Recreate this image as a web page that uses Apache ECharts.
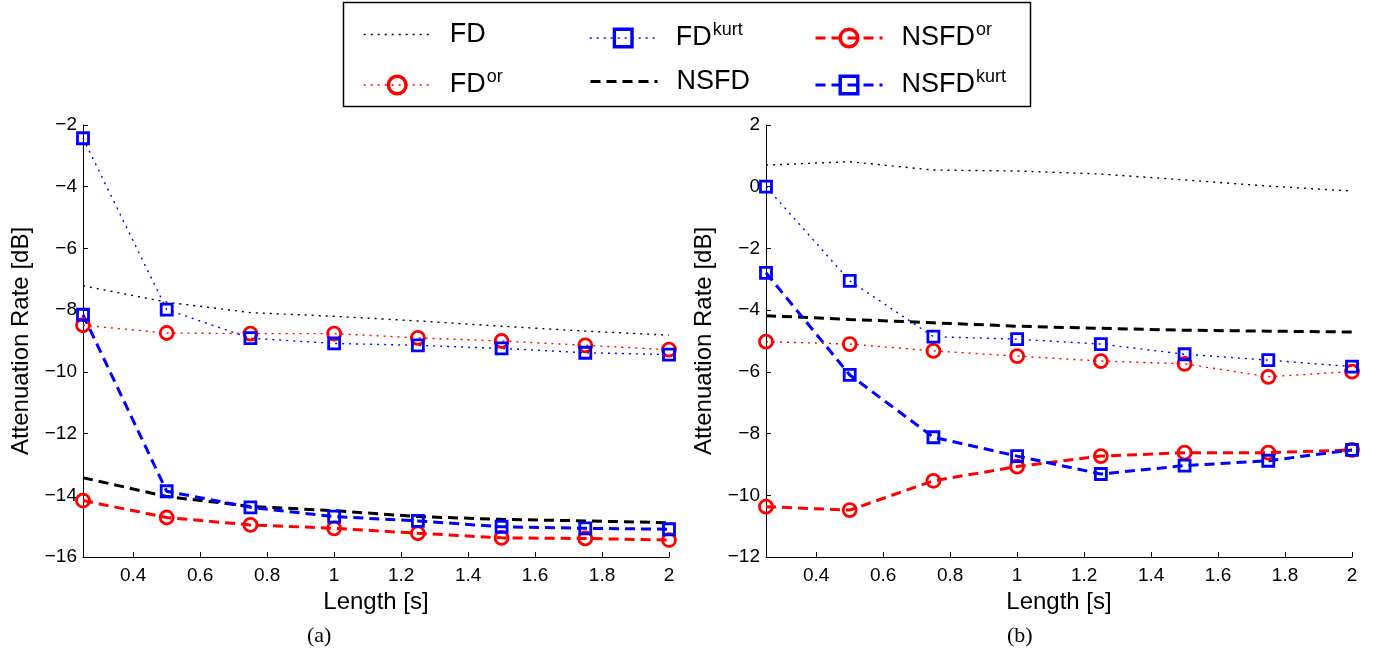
<!DOCTYPE html>
<html><head><meta charset="utf-8">
<script src="https://cdn.jsdelivr.net/npm/echarts@6/dist/echarts.min.js"></script>
<style>html,body{margin:0;padding:0;background:#fff}#c{width:1379px;height:661px}</style>
</head><body><div id="c"></div>
<script>
// ---- data ----
const lengths = [0.25, 0.5, 0.75, 1, 1.25, 1.5, 1.75, 2];
const xTickValues = [0.4, 0.6, 0.8, 1, 1.2, 1.4, 1.6, 1.8, 2];
const seriesNames = ['FD', 'FD^or', 'FD^kurt', 'NSFD', 'NSFD^or', 'NSFD^kurt'];

// panel (a)
const aFD        = [-7.21, -7.74, -8.08, -8.20, -8.35, -8.52, -8.68, -8.81];
const aFDor      = [-8.49, -8.74, -8.76, -8.76, -8.90, -9.00, -9.14, -9.28];
const aFDkurt    = [-2.43, -7.98, -8.91, -9.08, -9.14, -9.24, -9.38, -9.44];
const aNSFD      = [-13.43, -14.04, -14.36, -14.50, -14.69, -14.78, -14.83, -14.89];
const aNSFDor    = [-14.17, -14.72, -14.96, -15.07, -15.23, -15.38, -15.40, -15.45];
const aNSFDkurt  = [-8.15, -13.87, -14.39, -14.69, -14.83, -15.02, -15.07, -15.10];

// panel (b)
const bFD        = [0.70, 0.81, 0.54, 0.51, 0.41, 0.22, 0.02, -0.14];
const bFDor      = [-5.02, -5.10, -5.32, -5.49, -5.65, -5.74, -6.16, -5.99];
const bFDkurt    = [0.00, -3.05, -4.86, -4.94, -5.10, -5.43, -5.62, -5.83];
const bNSFD      = [-4.18, -4.30, -4.41, -4.52, -4.59, -4.65, -4.68, -4.71];
const bNSFDor    = [-10.37, -10.48, -9.53, -9.07, -8.73, -8.62, -8.62, -8.53];
const bNSFDkurt  = [-2.79, -6.10, -8.12, -8.73, -9.31, -9.04, -8.88, -8.53];

// ---- styles ----
const DOT = [2, 5];
const DASH = [10, 6];
const styles = {
  'FD':        {color: '#000000', width: 1.4, type: DOT,  symbol: 'none'},
  'FD^or':     {color: '#ff0000', width: 1.4, type: DOT,  symbol: 'circle'},
  'FD^kurt':   {color: '#0000ff', width: 1.4, type: DOT,  symbol: 'rect'},
  'NSFD':      {color: '#000000', width: 3,   type: DASH, symbol: 'none'},
  'NSFD^or':   {color: '#ff0000', width: 3,   type: DASH, symbol: 'circle'},
  'NSFD^kurt': {color: '#0000ff', width: 3,   type: DASH, symbol: 'rect'}
};

function pairs(vals) { return lengths.map((x, i) => [x, vals[i]]); }
function mk(name, vals, idx) {
  const s = styles[name];
  return {
    type: 'line', name: name, xAxisIndex: idx, yAxisIndex: idx,
    data: pairs(vals), symbol: s.symbol,
    symbolSize: s.symbol === 'circle' ? 13 : 11,
    lineStyle: {color: s.color, width: s.width, type: s.type},
    itemStyle: {color: 'rgba(0,0,0,0)', borderColor: s.color, borderWidth: 2.8},
    emphasis: {disabled: true}, animation: false, clip: false
  };
}

const series = [
  mk('FD', aFD, 0), mk('FD^or', aFDor, 0), mk('FD^kurt', aFDkurt, 0),
  mk('NSFD', aNSFD, 0), mk('NSFD^or', aNSFDor, 0), mk('NSFD^kurt', aNSFDkurt, 0),
  mk('FD', bFD, 1), mk('FD^or', bFDor, 1), mk('FD^kurt', bFDkurt, 1),
  mk('NSFD', bNSFD, 1), mk('NSFD^or', bNSFDor, 1), mk('NSFD^kurt', bNSFDkurt, 1)
];

const FONT = 'Liberation Sans, Arial, sans-serif';
const minus = v => String(v).replace('-', '\u2212');

function xAx(idx) {
  return {
    type: 'value', gridIndex: idx, min: 0.25, max: 2,
    axisLine: {onZero: false, lineStyle: {color: '#000', width: 1}},
    axisTick: {inside: true, length: 5, customValues: xTickValues, lineStyle: {color: '#000'}},
    axisLabel: {customValues: xTickValues, color: '#000', fontSize: 19, fontFamily: FONT, margin: 9,
                formatter: v => String(+v.toFixed(2))},
    splitLine: {show: false},
    name: 'Length [s]', nameLocation: 'middle', nameGap: 32,
    nameTextStyle: {color: '#000', fontSize: 24, fontFamily: FONT}
  };
}
function yAx(idx, min, max) {
  return {
    type: 'value', gridIndex: idx, min: min, max: max, interval: 2,
    axisLine: {show: true, onZero: false, lineStyle: {color: '#000', width: 1}},
    axisTick: {show: true, inside: true, length: 5, lineStyle: {color: '#000'}},
    axisLabel: {color: '#000', fontSize: 19, fontFamily: FONT, margin: 6, formatter: minus},
    splitLine: {show: false},
    name: 'Attenuation Rate [dB]', nameLocation: 'middle', nameGap: 50,
    nameTextStyle: {color: '#000', fontSize: 24, fontFamily: FONT}
  };
}

const richText = {
  b: {fontSize: 27, fontFamily: FONT, color: '#000', lineHeight: 34},
  s: {fontSize: 18, fontFamily: FONT, color: '#000', lineHeight: 34, verticalAlign: 'top', padding: [0, 0, 14, 1]}
};
function legendFmt(name) {
  const p = name.split('^');
  return p.length > 1 ? '{b|' + p[0] + '}{s|' + p[1] + '}' : '{b|' + p[0] + '}';
}
const legendPos = {
  'FD': [358, 16], 'FD^or': [358, 63],
  'FD^kurt': [584, 16], 'NSFD': [584, 63],
  'NSFD^or': [809, 16], 'NSFD^kurt': [809, 63]
};
const legends = seriesNames.map(n => {
  const s = styles[n];
  const noSym = s.symbol === 'none';
  return {
    data: [n], left: legendPos[n][0], top: legendPos[n][1],
    itemWidth: 67, itemHeight: 22, selectedMode: false,
    formatter: legendFmt,
    itemStyle: noSym ? {color: 'rgba(0,0,0,0)', borderColor: 'rgba(0,0,0,0)', borderWidth: 0}
                     : {color: 'rgba(0,0,0,0)', borderColor: s.color, borderWidth: 3.4},
    lineStyle: {color: s.color, width: s.width, type: s.type},
    textStyle: {fontSize: 27, fontFamily: FONT, color: '#000', padding: [0, 0, 0, 14], rich: richText}
  };
});

const chart = echarts.init(document.getElementById('c'), null, {renderer: 'canvas'});
chart.setOption({
  backgroundColor: '#fff',
  animation: false,
  grid: [
    {left: 83, right: 710, top: 125, bottom: 104},
    {left: 766, right: 27, top: 125, bottom: 104}
  ],
  xAxis: [xAx(0), xAx(1)],
  yAxis: [yAx(0, -16, -2), yAx(1, -12, 2)],
  legend: legends,
  series: series,
  graphic: [
    {type: 'rect', shape: {x: 343.5, y: 2.5, width: 687, height: 104},
     style: {fill: 'none', stroke: '#000', lineWidth: 1.5}, z: 100},
    {type: 'text', left: 307, top: 625,
     style: {text: '(a)', font: '22px "Liberation Serif", "Times New Roman", serif', fill: '#000'}},
    {type: 'text', left: 1007, top: 625,
     style: {text: '(b)', font: '22px "Liberation Serif", "Times New Roman", serif', fill: '#000'}}
  ]
});
</script>
</body></html>
